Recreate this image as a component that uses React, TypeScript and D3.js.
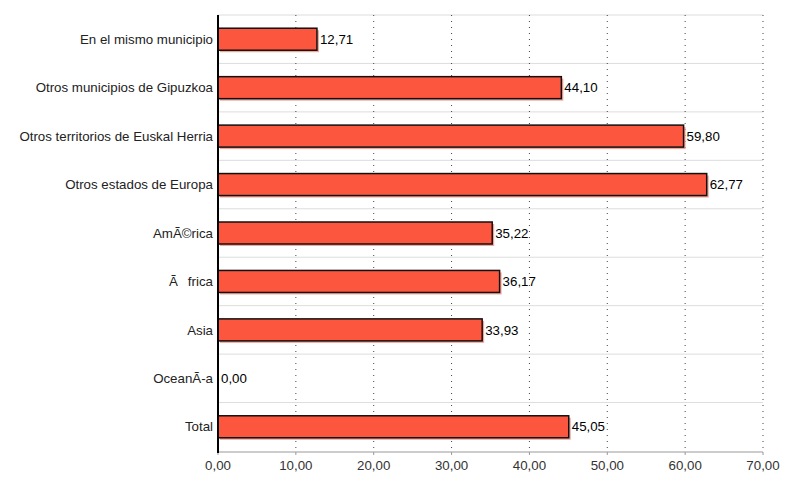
import React from "react";
import * as d3 from "d3";

const categories = [
  "En el mismo municipio",
  "Otros municipios de Gipuzkoa",
  "Otros territorios de Euskal Herria",
  "Otros estados de Europa",
  "AmÃ©rica",
  "Ã\u0081frica",
  "Asia",
  "OceanÃ-a",
  "Total",
];
const values = [12.71, 44.1, 59.8, 62.77, 35.22, 36.17, 33.93, 0.0, 45.05];
const ticks = [0, 10, 20, 30, 40, 50, 60, 70];

const fmt = (v: number) => v.toFixed(2).replace(".", ",");

export default function App() {
  const W = 800, H = 500;
  const left = 218, right = 763, top = 15, bottom = 451;
  const x = d3.scaleLinear().domain([0, 70]).range([left, right]);
  const y = d3.scaleBand().domain(categories).range([top, bottom]);
  const bh = 22;
  const font = "'Liberation Sans', Arial, sans-serif";
  const fs = 13.3;
  return (
    <svg width={W} height={H} style={{ position: "absolute", left: 0, top: 0 }}>
      <rect width={W} height={H} fill="#fff" />
      {categories.map((c, i) => (
        <line key={"h" + i} x1={left} x2={right} y1={y(c)!} y2={y(c)!} stroke="#ddd" strokeWidth={1} />
      ))}
      {ticks.slice(1).map((t) => (
        <line key={"v" + t} x1={x(t)} x2={x(t)} y1={top} y2={bottom} stroke="#444" strokeWidth={1} strokeDasharray="1,5" />
      ))}
      {categories.map((c, i) => {
        const cy = y(c)! + y.bandwidth() / 2;
        const w = x(values[i]) - x(0);
        return (
          <g key={"b" + i}>
            {w > 0 && (
              <>
                <rect x={x(0) + 2} y={cy - bh / 2 + 2} width={w} height={bh} fill="#f3a59a" />
                <rect x={x(0)} y={cy - bh / 2} width={w} height={bh} fill="#fd563f" stroke="#111" strokeWidth={1.5} />
              </>
            )}
            <text x={x(values[i]) + 3} y={cy} dy="0.35em" fontSize={fs} fontFamily={font} fill="#000">
              {fmt(values[i])}
            </text>
            <text x={left - 5} y={cy} dy="0.35em" textAnchor="end" fontSize={fs} fontFamily={font} fill="#222">
              {c}
            </text>
          </g>
        );
      })}
      <line x1={left} x2={right} y1={bottom + 1} y2={bottom + 1} stroke="#999" strokeWidth={1} />
      {ticks.map((t) => (
        <g key={"t" + t}>
          <line x1={x(t)} x2={x(t)} y1={bottom + 1} y2={bottom + 4} stroke="#999" />
          <text x={x(t)} y={bottom + 10} dy="0.71em" textAnchor="middle" fontSize={fs} fontFamily={font} fill="#333">
            {fmt(t)}
          </text>
        </g>
      ))}
      <line x1={left} x2={left} y1={top} y2={bottom + 2} stroke="#000" strokeWidth={2} />
    </svg>
  );
}
